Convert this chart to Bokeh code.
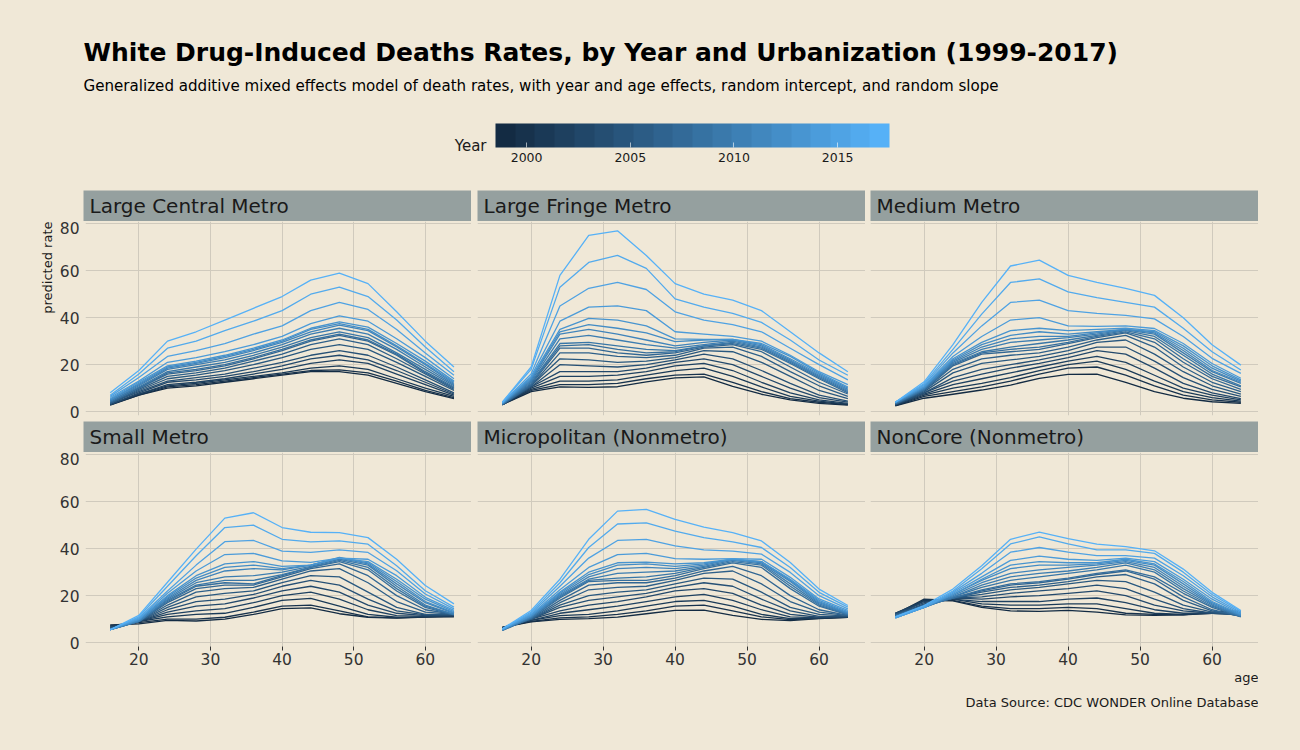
import math
from bokeh.plotting import figure
from bokeh.layouts import column, row
from bokeh.models import (ColumnDataSource, LinearColorMapper, ColorBar, FixedTicker,
                          Range1d, Grid)
from bokeh.transform import linear_cmap
from bokeh.core.properties import value
from bokeh.embed import file_html
from bokeh.resources import INLINE

# ---------------- data ----------------
ages = [16, 20, 24, 28, 32, 36, 40, 44, 48, 52, 56, 60, 64]
years = list(range(1999, 2018))

large_central = [
    [2.8, 7, 10, 11, 12.5, 14, 15.5, 17, 17, 15.5, 12, 8.5, 5.5],
    [3, 7, 10.5, 11.5, 13, 14.5, 16, 17.5, 17.8, 16.5, 13, 9, 6],
    [3, 7.5, 11, 12, 13.5, 15, 16.5, 18.5, 19.5, 18, 14, 10, 6.5],
    [3, 7.5, 11.5, 12.5, 14, 16, 18, 20.5, 22, 20.5, 16, 11.5, 7],
    [3, 8, 12.5, 13.5, 15, 17, 19.5, 22.5, 24, 22, 17.5, 12.5, 7.5],
    [3.5, 8.5, 13, 14.5, 16, 18.5, 21, 24, 26, 24, 19, 13.5, 8],
    [3.5, 9, 14, 15.5, 17.5, 20, 23, 26.5, 28.5, 26.5, 21, 15, 9],
    [3.5, 9.5, 15, 16.5, 18.5, 21.5, 24.5, 28.5, 31, 28.5, 22.5, 16, 9.5],
    [4, 10, 16, 17.5, 19.5, 22.5, 26, 30, 32.5, 30, 24, 16.5, 10],
    [4, 10, 16.5, 18, 20, 23, 26.5, 30.5, 33, 30.5, 24.5, 17, 10.5],
    [4.5, 10.5, 17, 19, 21, 24, 27.5, 31.5, 34, 31.5, 25, 18, 11],
    [4.5, 11, 18, 20, 22, 25, 28.5, 33, 35.5, 33, 26.5, 19, 11.5],
    [5, 11.5, 18.5, 20.5, 23, 26, 29.5, 34, 36.8, 34.5, 27.5, 20, 12],
    [5, 12, 19, 21, 23.5, 26.5, 30, 35, 37.5, 35, 28, 20.5, 12.5],
    [5.5, 12.5, 19.5, 21.5, 24, 27, 30.5, 35.5, 38.2, 36, 29, 21.5, 13],
    [6, 13, 21, 23, 25.5, 28.5, 32, 37.5, 40.8, 38.5, 31, 23, 14],
    [6.5, 14.5, 23.5, 26, 29, 33, 36.5, 43, 46.5, 43.5, 35, 25, 15.5],
    [7, 16, 27, 30, 34.5, 38.5, 43, 50, 53, 49, 39, 27.5, 17],
    [8, 17.5, 30, 34, 39, 44, 49, 56, 59, 54.5, 42.5, 30, 19],
]

large_fringe = [
    [3, 8.5, 10.5, 10.3, 10.6, 12.7, 14.4, 14.8, 10.8, 7.4, 5, 3.5, 2.8],
    [3, 9, 11.5, 11.5, 12, 14, 15.5, 16, 12.5, 8.5, 5.5, 4, 3],
    [3, 9.5, 13, 13, 13.5, 15.5, 17.5, 18.5, 15, 10.5, 6.5, 4.5, 3.2],
    [3, 10, 15, 15, 15.5, 17, 19.5, 20.5, 17.5, 12.5, 8, 5, 3.5],
    [3, 10.5, 17, 17, 17, 18.5, 21, 22.5, 20, 15, 10, 6, 4],
    [3, 10.5, 20, 19.5, 19, 20, 22, 24.5, 22.5, 17.5, 12, 7, 4.5],
    [3, 11, 22.5, 22, 21, 21.5, 23, 26, 25.5, 21, 15, 9, 5.5],
    [3, 11, 25, 25, 23.5, 23, 24, 27, 27.5, 23.5, 17, 11, 6.5],
    [3, 11.5, 27, 27, 25, 24, 25, 27.5, 28.5, 25.5, 19, 12.5, 7.5],
    [3.1, 12, 28, 28.5, 26.5, 25, 25.5, 28, 29, 26.5, 20.5, 14, 8],
    [3.2, 12.5, 29, 29.5, 28, 26.5, 26, 28, 29.5, 27, 21, 14.5, 8.5],
    [3.3, 13, 31, 32.5, 30.5, 28.5, 27, 28.5, 30, 27.5, 21.5, 15, 9],
    [3.4, 13.5, 33, 35, 33, 30.5, 28, 29.5, 30.5, 28, 22, 15.5, 9.5],
    [3.5, 14, 34, 37, 35.5, 33.5, 29.8, 30.5, 30.8, 28.5, 22.5, 16, 10],
    [3.6, 14.5, 35, 39.7, 39, 36.5, 31, 30.8, 30.8, 29, 23.5, 16.5, 10.5],
    [3.7, 15, 38.5, 44.5, 45, 43, 34, 33, 32, 30, 24, 17, 11.5],
    [3.8, 16, 45, 52.5, 55, 52, 42.5, 39, 37, 34, 27, 20, 13.5],
    [4, 18, 53, 63.5, 66.5, 61, 48, 44.5, 41.8, 38, 30.5, 22, 15.5],
    [4, 19, 58, 75, 77, 66.5, 54.5, 50, 47.5, 43, 34, 25, 17],
]

medium = [
    [2.5, 5.7, 7.4, 9.2, 11.3, 14.2, 15.9, 16, 12.5, 8.5, 5.7, 4.2, 3.5],
    [2.6, 6.5, 8.5, 10.5, 13, 16, 18.5, 19, 15.5, 11, 7, 5, 4],
    [2.8, 7, 10, 12, 14.5, 17.5, 20, 21.5, 18, 13, 8.5, 6, 4.5],
    [2.9, 7.5, 11.5, 14, 16.5, 19, 21.5, 23.5, 21, 15.5, 10, 7, 5],
    [3, 8, 13, 16, 18.5, 20.5, 23, 26, 24.5, 18.5, 12, 8, 5.5],
    [3.1, 8, 14.5, 18, 20, 22, 24.5, 27.5, 27.5, 21.5, 14.5, 9.5, 6.5],
    [3.2, 8.5, 16.5, 20.5, 22, 23.5, 26, 29.5, 30.5, 24.5, 17, 11, 7.5],
    [3.3, 9, 18, 22.5, 24, 25, 27.5, 30.5, 32.5, 27.5, 19, 12.5, 8.5],
    [3.3, 9, 19.5, 24.5, 25.5, 26.5, 29, 31.5, 33.5, 29.5, 21, 14, 9.5],
    [3.4, 9.5, 20, 25, 26.5, 27.5, 29.5, 32, 34, 31, 22.5, 15, 10.5],
    [3.5, 9.5, 20.5, 25.5, 27.5, 29, 30.5, 32.5, 34.5, 32, 24, 16, 11],
    [3.6, 10, 21, 26.5, 29.5, 30.5, 31.5, 33, 34.8, 33, 25, 17, 12],
    [3.8, 10, 21.5, 27.5, 31, 32, 32, 33.5, 35, 33.5, 26, 17.5, 12.5],
    [4, 10.5, 22, 28.5, 32.5, 34, 33, 34, 35, 34, 27, 18.5, 13],
    [4, 10.5, 22.5, 29.5, 34.5, 35.5, 34.5, 35, 35.5, 34.5, 28, 19.5, 13.5],
    [4, 11, 23.5, 32, 39, 40, 36.5, 36.3, 36.5, 35.4, 29, 20.5, 14.2],
    [4, 11.5, 25, 36.5, 46.5, 47.5, 43, 41.8, 41, 39.5, 32, 22.7, 16.3],
    [4, 12, 26.5, 41.5, 55, 56.5, 51, 48.5, 46.5, 44.5, 35.5, 25.5, 17.7],
    [4, 12.7, 28.5, 46.5, 62, 64.5, 58, 55, 52.5, 49.5, 40, 28.5, 19.8],
]

small = [
    [7.5, 8, 9.5, 9.2, 10, 12, 14.5, 14.8, 12.3, 10.8, 10.4, 10.9, 11],
    [7, 8.5, 10, 10, 10.8, 13, 15.5, 16, 13.5, 11, 10.5, 11, 11.3],
    [7, 9, 11, 12, 12.5, 15, 18, 18.8, 15.5, 12, 10.8, 11, 11.5],
    [6.5, 9, 12, 13.5, 14.5, 17, 20, 21.5, 18.5, 14, 11.5, 11.2, 11.5],
    [6.5, 9, 13, 15.5, 16.5, 19, 22, 24, 21.5, 16, 12.5, 11.5, 11.5],
    [6, 9, 14, 17.5, 18.5, 20.5, 24, 26.5, 24.5, 18.5, 13.5, 11.8, 11.8],
    [6, 9, 15, 19.5, 21, 22, 25.5, 28.5, 28, 21.5, 15, 12, 12],
    [6, 9, 16, 21.5, 23, 23.5, 27, 30.5, 31.5, 25.5, 17.5, 13, 12],
    [5.5, 9, 17, 23, 24.5, 24.5, 28, 31.5, 33.5, 28.5, 20, 14, 12],
    [5.5, 9, 17.5, 24, 25.5, 25, 28.5, 32, 34.5, 31, 22, 15, 11.8],
    [5.5, 9, 18, 24.5, 26.5, 26.5, 29, 32, 35, 32, 23, 15.5, 12],
    [5.5, 9, 18.5, 25.5, 28, 28.5, 30, 32.5, 35.5, 33, 24, 16, 12],
    [5.5, 9.5, 19, 26.5, 30.5, 31.5, 31, 33, 36, 33.5, 25, 17, 12.5],
    [5.5, 9.5, 19.5, 27.5, 32, 33, 31.5, 33, 36.3, 34, 26, 17.5, 12.8],
    [5.5, 10, 20, 28.5, 33.5, 34.5, 32.5, 33, 36, 34.5, 27, 18.5, 13.2],
    [5.5, 10, 21, 30.5, 37.5, 38, 34.8, 34.2, 36, 35.5, 28.5, 19.3, 13.7],
    [5.5, 10.5, 22, 33, 43, 43.5, 39, 38.4, 39.5, 38.4, 30.6, 20.7, 14.4],
    [5.5, 11, 24, 37, 49, 50, 44, 42.9, 43.3, 41.9, 32.7, 22.1, 15.1],
    [5.5, 11.6, 25.7, 39.8, 53, 55.3, 49, 47, 46.8, 44.7, 35.5, 24.3, 16.5],
]

micropolitan = [
    [6.5, 8.8, 9.9, 10.2, 10.9, 12.3, 13.7, 13.8, 11.6, 9.9, 9.4, 10.2, 10.8],
    [6.5, 9, 10.5, 11, 12, 13.5, 15.5, 16, 13.5, 11, 9.8, 10.3, 10.8],
    [6.5, 9.5, 11.5, 12, 13.5, 15.5, 17.5, 18, 15.5, 12, 10.2, 10.4, 11],
    [6.3, 9.5, 12.5, 14, 15.5, 17.5, 19.5, 20.5, 18, 14, 11, 10.5, 11],
    [6.2, 10, 13.5, 16, 17.5, 19.5, 22, 23, 21, 16, 12, 10.8, 11],
    [6, 10, 15, 18, 19.5, 21, 23.5, 25.5, 24, 18.5, 13.5, 11.2, 11.2],
    [6, 10, 16, 20, 21.5, 22.5, 25, 27.5, 27, 21.5, 15, 12, 11.3],
    [5.8, 10, 17, 22.5, 23.5, 24, 26.5, 29.5, 30.5, 25, 17.5, 13, 11.5],
    [5.6, 10.2, 18, 24.5, 25.5, 25.5, 27.5, 30.5, 32.5, 28.5, 20, 14, 11.6],
    [5.2, 10.5, 19, 26, 26.5, 26.5, 28.5, 31.5, 34, 32, 23, 15.5, 11.8],
    [5.2, 10.5, 19.5, 26.5, 27.5, 28, 29.5, 32, 34.5, 33, 24, 16, 12],
    [5.3, 11, 20, 27, 29.5, 30, 30.5, 32.5, 35, 33.5, 25, 16.5, 12.2],
    [5.4, 11, 20.5, 28, 31.5, 32, 31.5, 33, 35.5, 34, 26, 17, 12.5],
    [5.5, 11.5, 21, 29, 33, 33.5, 32.5, 33.5, 35.5, 34.5, 26.5, 17.5, 12.8],
    [5.5, 11.5, 21.5, 30, 34, 34.3, 33.5, 34, 35.5, 34.5, 27, 18, 13.2],
    [5.6, 12, 22.5, 32, 37.5, 38, 35.8, 35.5, 35.8, 35.5, 27.8, 18.6, 13.7],
    [5.7, 12.5, 24, 36, 43.5, 44, 41.2, 39.5, 39, 37.7, 29.9, 20, 14.4],
    [5.8, 13, 25.5, 40.5, 50.5, 51, 47.5, 44.7, 42.9, 40.5, 32, 21.4, 15.1],
    [5.9, 13.7, 27, 44, 56, 56.7, 52.5, 49.2, 46.8, 43.3, 34.1, 22.8, 15.8],
]

noncore = [
    [11.3, 18, 17.8, 15, 13.5, 13.3, 13.7, 13, 11.8, 11.6, 11.8, 13, 13.5],
    [12, 18.5, 18, 15.5, 14.5, 14.5, 15, 14.5, 12.5, 12, 11.8, 12.5, 13],
    [12.5, 18, 18.5, 16.5, 16, 16, 16.5, 16.5, 14.5, 12.5, 12, 12.5, 12.5],
    [12.5, 17.5, 18.5, 17.5, 17.5, 17.5, 18.5, 19, 17, 14, 12.5, 12.5, 12.3],
    [12.5, 17, 19, 18.5, 19.5, 20, 21, 22, 20, 16, 13.5, 12.5, 12],
    [12, 16.5, 19, 19.5, 21, 22, 23, 24.5, 23, 18.5, 14.5, 12.5, 11.8],
    [12, 16, 19, 20.5, 22.5, 23.5, 25, 26.5, 26, 21.5, 16, 13, 11.5],
    [11.5, 16, 19, 21.5, 23.5, 24.5, 26, 28, 29, 25, 18, 13.5, 11.3],
    [11.5, 15.5, 19, 22, 24.5, 25.5, 27, 29, 30.5, 27, 19.5, 14, 11.2],
    [11.5, 15.5, 19, 22.5, 25, 26, 27.5, 29.5, 31, 28, 21, 15, 11],
    [11, 15, 19.5, 23.5, 26.5, 28, 29.5, 31, 33, 30, 22, 15.5, 11.2],
    [11, 15, 19.5, 24.5, 28, 29.5, 30.5, 32, 34, 31, 23, 16, 11.3],
    [11, 15, 20, 25.5, 29.5, 31, 32, 33, 34.5, 32, 24, 16.5, 11.5],
    [10.5, 15, 20.5, 26.5, 31.5, 33, 33, 33.5, 35, 33, 25, 17, 11.7],
    [10.5, 15, 20.5, 27, 33, 34.5, 34, 34, 35.5, 33.5, 26, 17.5, 12],
    [10.5, 15, 21, 28, 35, 36.8, 35.5, 35, 36, 34.5, 27, 18.5, 12.3],
    [10.5, 15, 21.5, 29.5, 38.5, 40.5, 38.5, 37, 37, 36, 28.5, 19.5, 12.8],
    [11, 15.5, 22, 31.5, 42, 45, 42, 39.5, 39.5, 38, 30, 20.5, 13.3],
    [11, 15.8, 22.8, 32.7, 44, 47, 44.3, 41.9, 40.9, 39.1, 31.3, 21.4, 13.7],
]

panel_names = ["Large Central Metro", "Large Fringe Metro", "Medium Metro",
               "Small Metro", "Micropolitan (Nonmetro)", "NonCore (Nonmetro)"]
panel_data = [large_central, large_fringe, medium, small, micropolitan, noncore]
x_ticks = [20, 30, 40, 50, 60]
y_ticks = [0, 20, 40, 60, 80]
year_ticks = [2000, 2005, 2010, 2015]

# ---------------- style ----------------
BG = "#F0E8D7"
STRIP = "#95A09F"
GRID = "#D0CABD"
FONT = "DejaVu Sans"
LOW, HIGH = (0x13, 0x2B, 0x43), (0x56, 0xB1, 0xF7)


def grad(n):
    out = []
    for i in range(n):
        t = i / (n - 1)
        c = [round(LOW[k] + (HIGH[k] - LOW[k]) * t) for k in range(3)]
        out.append("#%02x%02x%02x" % tuple(c))
    return out


pal_lines = grad(256)
pal_bar = grad(20)

FRAME_W, FRAME_H = 388, 194
YLAB_W = 48
LEFTS = [27, 6, 5]
XR = (12.55, 66.45)
YR = (-1.65, 80.95)
STRIP_H = 31
ROW1_B, ROW2_B = 6, 24


def base_fig(**kw):
    return figure(toolbar_location=None, output_backend="svg",
                  background_fill_color=BG, border_fill_color=BG,
                  outline_line_color=None, **kw)


def make_strip(name, col):
    s = base_fig(width=LEFTS[col] + FRAME_W, height=STRIP_H,
                 x_range=Range1d(0, FRAME_W), y_range=Range1d(0, STRIP_H),
                 x_axis_location=None, y_axis_location=None,
                 min_border_left=LEFTS[col], min_border_right=0,
                 min_border_top=0, min_border_bottom=0)
    s.background_fill_color = STRIP
    s.grid.visible = False
    s.text(x=[6], y=[15.5], text=[name], text_font=value(FONT),
           text_font_size="20px", text_color="#1A1A1A",
           text_align="left", text_baseline="middle")
    return s


def make_panel(data, col, rowi):
    bottom = ROW2_B if rowi == 1 else ROW1_B
    p = base_fig(width=LEFTS[col] + FRAME_W, height=FRAME_H + bottom,
                 x_range=Range1d(*XR), y_range=Range1d(*YR),
                 x_axis_location="below" if rowi == 1 else None,
                 y_axis_location="left" if col == 0 else None,
                 min_border_left=LEFTS[col], min_border_right=0,
                 min_border_top=0, min_border_bottom=bottom)
    p.add_layout(Grid(dimension=0, ticker=FixedTicker(ticks=x_ticks),
                      grid_line_color=GRID, grid_line_width=1))
    p.add_layout(Grid(dimension=1, ticker=FixedTicker(ticks=y_ticks),
                      grid_line_color=GRID, grid_line_width=1))
    for ax in p.xaxis + p.yaxis:
        ax.axis_line_color = None
        ax.minor_tick_line_color = None
        ax.major_tick_line_color = "#333333"
        ax.major_tick_in = 0
        ax.major_label_text_font = FONT
        ax.major_label_text_font_size = "15.5px"
        ax.major_label_text_color = "#333333"
    for ax in p.xaxis:
        ax.ticker = FixedTicker(ticks=x_ticks)
        ax.major_tick_out = 4
        ax.major_label_standoff = 2
    for ax in p.yaxis:
        ax.ticker = FixedTicker(ticks=y_ticks)
        ax.major_tick_out = 0
        ax.major_tick_line_color = None
        ax.major_label_standoff = 6
    src = ColumnDataSource(dict(xs=[ages] * len(years), ys=data, year=years))
    p.multi_line(xs="xs", ys="ys", source=src, line_width=1.3, line_join="round",
                 line_color=linear_cmap("year", pal_lines, 1999, 2017))
    return p


strips = [make_strip(n, i % 3) for i, n in enumerate(panel_names)]
panels = [make_panel(d, i % 3, i // 3) for i, d in enumerate(panel_data)]

GRID_H = 2 * STRIP_H + 2 * FRAME_H + ROW1_B + ROW2_B
TOTAL_W = YLAB_W + sum(LEFTS) + 3 * FRAME_W

# ---------------- y label column ----------------
ylab = base_fig(width=YLAB_W, height=GRID_H, x_range=Range1d(0, YLAB_W),
                y_range=Range1d(0, GRID_H), x_axis_location=None, y_axis_location=None,
                min_border_left=0, min_border_right=0, min_border_top=0, min_border_bottom=0)
ylab.grid.visible = False
ylab.text(x=[39], y=[GRID_H - STRIP_H], text=["predicted rate"], angle=math.pi / 2,
          text_font=value(FONT), text_font_size="13px", text_color="#1A1A1A",
          text_align="right", text_baseline="middle")

# ---------------- header ----------------
HDR_H = 182
hdr = base_fig(width=TOTAL_W, height=HDR_H, x_range=Range1d(0, TOTAL_W),
               y_range=Range1d(0, HDR_H), x_axis_location=None, y_axis_location=None,
               min_border_left=0, min_border_right=0, min_border_top=0, min_border_bottom=0)
hdr.grid.visible = False
hdr.text(x=[75], y=[138], text=["White Drug-Induced Deaths Rates, by Year and Urbanization (1999-2017)"],
         text_font=value(FONT), text_font_size="25px", text_font_style="bold",
         text_color="#000000", text_baseline="middle")
hdr.text(x=[75], y=[105], text=["Generalized additive mixed effects model of death rates, with year and age effects, random intercept, and random slope"],
         text_font=value(FONT), text_font_size="15.1px", text_color="#000000",
         text_baseline="middle")
hdr.text(x=[478], y=[45], text=["Year"], text_font=value(FONT), text_font_size="15px",
         text_color="#1A1A1A", text_align="right", text_baseline="middle")
bar_mapper = LinearColorMapper(palette=pal_bar, low=1998.5, high=2017.5)
cb = ColorBar(color_mapper=bar_mapper, orientation="horizontal", width=394, height=24,
              location=(487, 26), padding=0, ticker=FixedTicker(ticks=year_ticks),
              label_standoff=5, major_label_text_font=FONT,
              major_label_text_font_size="12.5px", major_label_text_color="#1A1A1A",
              major_tick_line_color="white", major_tick_line_alpha=0.6,
              major_tick_in=5, major_tick_out=0, minor_tick_line_color=None,
              bar_line_color=None, border_line_color=None, background_fill_alpha=0)
hdr.add_layout(cb, "center")

# ---------------- footer ----------------
FT_H = 50
ftr = base_fig(width=TOTAL_W, height=FT_H, x_range=Range1d(0, TOTAL_W),
               y_range=Range1d(0, FT_H), x_axis_location=None, y_axis_location=None,
               min_border_left=0, min_border_right=0, min_border_top=0, min_border_bottom=0)
ftr.grid.visible = False
ftr.text(x=[TOTAL_W], y=[43.5], text=["age"], text_font=value(FONT), text_font_size="13px",
         text_color="#1A1A1A", text_align="right", text_baseline="middle")
ftr.text(x=[TOTAL_W], y=[18.5], text=["Data Source: CDC WONDER Online Database"],
         text_font=value(FONT), text_font_size="13px", text_color="#1A1A1A",
         text_align="right", text_baseline="middle")

grid_block = column(row(*strips[:3]), row(*panels[:3]),
                    row(*strips[3:]), row(*panels[3:]))
layout = column(hdr, row(ylab, grid_block), ftr)

html = file_html(layout, INLINE, title="White Drug-Induced Deaths Rates")
html = html.replace("<body>", '<body style="background-color:%s; margin:8px;">' % BG)
open("out.html", "w").write(html)
